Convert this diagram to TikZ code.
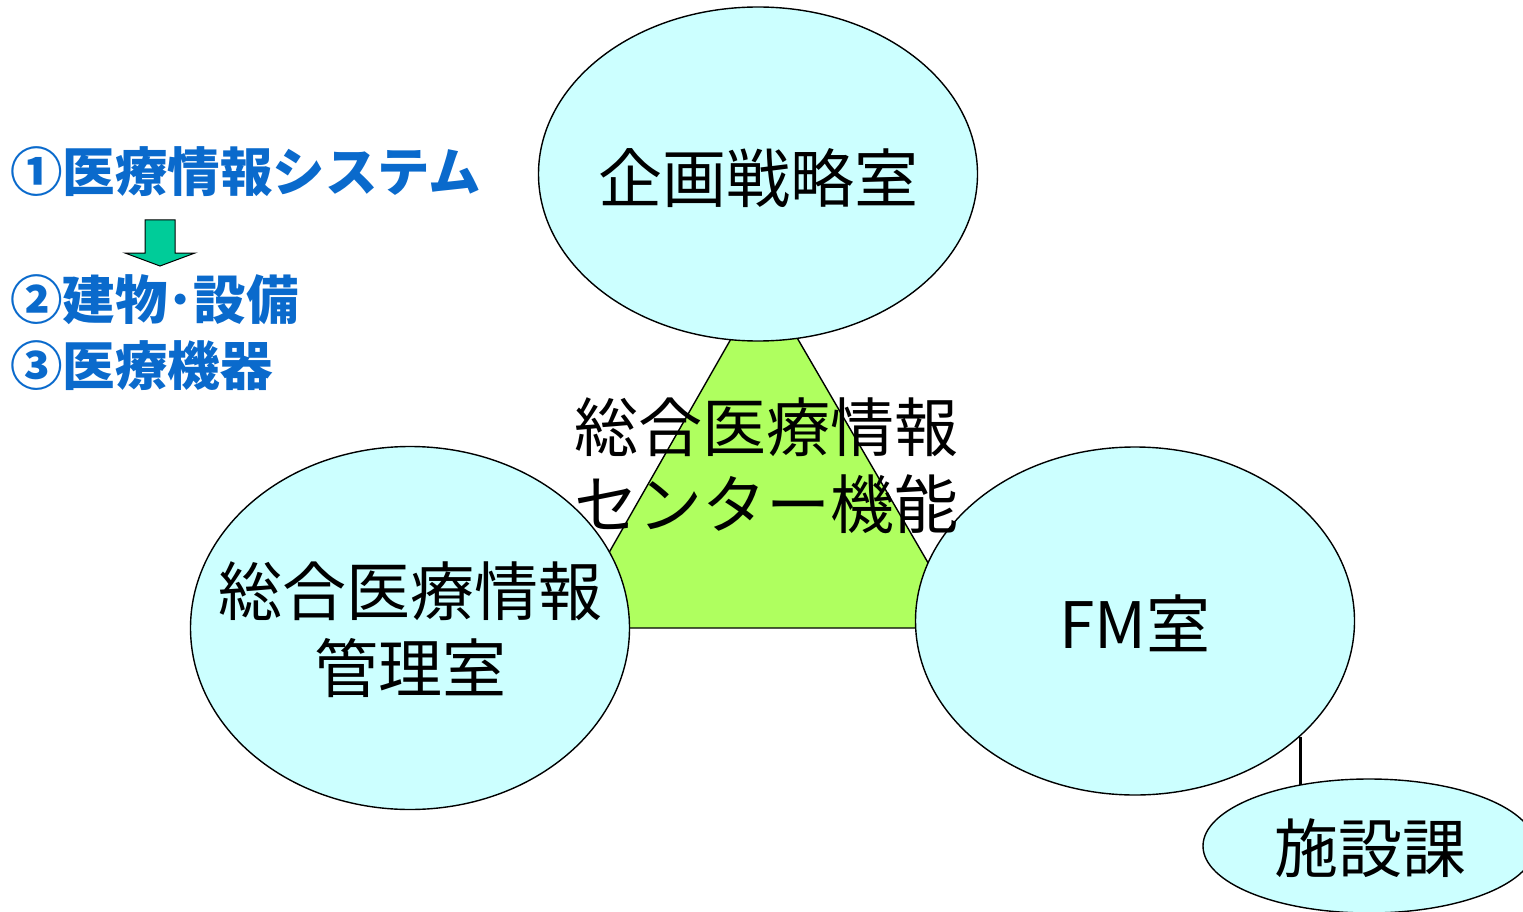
\documentclass[tikz,border=0pt]{standalone}
\usepackage{fontspec}
\setmainfont{Noto Sans CJK JP}
\usetikzlibrary{shapes.geometric}
\pgfdeclarelayer{background}
\pgfsetlayers{background,main}
\definecolor{ellfill}{HTML}{CCFFFF}
\definecolor{trifill}{HTML}{AFFF5F}
\definecolor{bluetxt}{HTML}{0A6ACC}
\definecolor{arrowfill}{HTML}{00CC99}
\tikzset{
  ell/.style={ellipse, draw=black, line width=1.4pt, fill=ellfill, inner sep=0pt},
  elltext/.style={inner sep=0pt, align=center, font=\fontsize{64}{77}\selectfont},
  bluelbl/.style={anchor=west, inner sep=0pt, text=bluetxt, font=\fontsize{52.5}{60}\selectfont\bfseries},
}
\begin{document}
\begin{tikzpicture}[x=1pt,y=-1pt]
\useasboundingbox (0,0) rectangle (1523,912);
% triangle
\draw[line width=1.4pt, fill=trifill] (764,281) -- (566,628) -- (966,628) -- cycle;
% ellipses
\node[ell, minimum width=439pt, minimum height=334pt] (kikaku) at (758,174) {};
\node[ell, minimum width=439pt, minimum height=363pt] (kanri) at (410,628) {};
\node[ell, minimum width=439pt, minimum height=348pt] (fm) at (1135,621) {};
\node[ell, minimum width=332pt, minimum height=134pt] (shisetsu) at (1369,846) {};
\begin{pgfonlayer}{background}
\draw[line width=3pt] (fm.-35.7) -- (fm.-35.7 |- shisetsu.center);
\end{pgfonlayer}
\node[elltext] (kikakut) at (758,178) {企画戦略室};
\node[elltext] (kanrit) at (410,630) {総合医療情報\\管理室};
\node[elltext] (fmt) at (1135,623) {FM室};
\node[elltext] (shisetsut) at (1370,848) {施設課};
% center label
\node[elltext] (center) at (766,466) {総合医療情報\\センター機能};
% left list
\node[bluelbl] (l1) at (10,172) {①医療情報システム};
\node[bluelbl] (l2) at (10,300) {②建物･設備};
\node[bluelbl] (l3) at (10,366) {③医療機器};
\coordinate (arr) at (160,220);
\draw[line width=1pt, fill=arrowfill, line join=miter]
  ([xshift=-15pt]arr) -- ([xshift=15pt]arr) -- ([xshift=15pt,yshift=-33pt]arr)
  -- ([xshift=35pt,yshift=-33pt]arr) -- ([yshift=-46pt]arr) -- ([xshift=-35pt,yshift=-33pt]arr)
  -- ([xshift=-15pt,yshift=-33pt]arr) -- cycle;
\end{tikzpicture}
\end{document}
